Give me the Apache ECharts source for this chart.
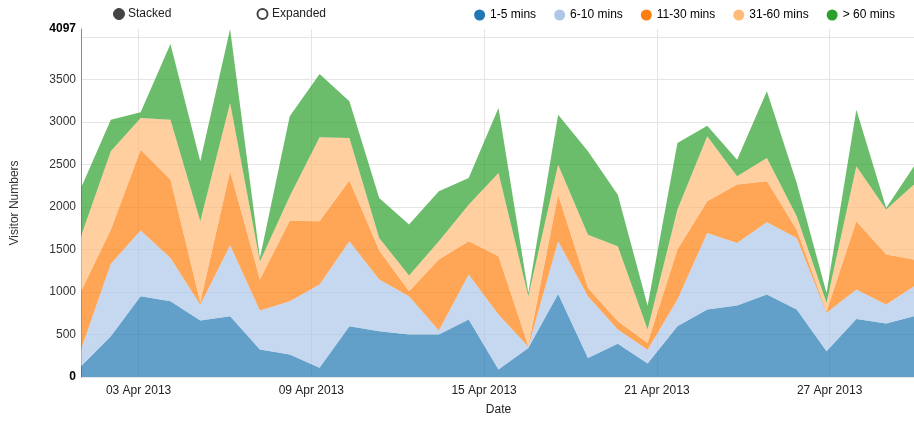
<!DOCTYPE html>
<html>
<head>
<meta charset="utf-8">
<script src="https://cdn.jsdelivr.net/npm/echarts@6/dist/echarts.min.js"></script>
<style>
  html, body { margin: 0; padding: 0; background: #fff; }
  #chart { width: 914px; height: 421px; }
</style>
</head>
<body>
<div id="chart"></div>
<script>
// Sample times (29 evenly spread samples over April 2013)
const sampleTimes = [
  '2013-04-01 00:00', '2013-04-02 00:51', '2013-04-03 01:43', '2013-04-04 02:34',
  '2013-04-05 03:26', '2013-04-06 04:17', '2013-04-07 05:09', '2013-04-08 06:00',
  '2013-04-09 06:51', '2013-04-10 07:43', '2013-04-11 08:34', '2013-04-12 09:26',
  '2013-04-13 10:17', '2013-04-14 11:09', '2013-04-15 12:00', '2013-04-16 12:51',
  '2013-04-17 13:43', '2013-04-18 14:34', '2013-04-19 15:26', '2013-04-20 16:17',
  '2013-04-21 17:09', '2013-04-22 18:00', '2013-04-23 18:51', '2013-04-24 19:43',
  '2013-04-25 20:34', '2013-04-26 21:26', '2013-04-27 22:17', '2013-04-28 23:09',
  '2013-04-30 00:00'
];

const seriesNames = ['1-5 mins', '6-10 mins', '11-30 mins', '31-60 mins', '> 60 mins'];

// Visitors per visit-length band
const mins1to5 = [127, 480, 951, 892, 665, 716, 324, 265, 108, 598, 539, 500, 500, 676, 88,
                  340, 978, 225, 390, 160, 598, 794, 841, 971, 794, 304, 684, 629, 722];
const mins6to10 = [197, 852, 773, 510, 185, 835, 458, 627, 980, 1000, 608, 451, 47, 530, 647,
                   15, 620, 726, 169, 160, 314, 902, 737, 851, 843, 451, 345, 224, 363];
const mins11to30 = [686, 403, 952, 922, 30, 871, 365, 949, 745, 714, 343, 59, 835, 392, 687,
                    10, 549, 98, 98, 80, 588, 373, 687, 482, 98, 15, 804, 588, 293];
const mins31to60 = [647, 922, 373, 705, 953, 803, 213, 286, 989, 502, 147, 186, 216, 431, 980,
                    585, 353, 627, 882, 160, 471, 764, 98, 274, 157, 103, 647, 530, 909];
const minsOver60 = [568, 372, 69, 891, 706, 872, 42, 942, 745, 431, 471, 598, 588, 314, 765,
                    40, 588, 981, 608, 280, 784, 126, 196, 785, 392, 117, 667, 19, 229];

const dateTicks = ['2013-04-03', '2013-04-09', '2013-04-15', '2013-04-21', '2013-04-27'];
const yMax = 4097;
const yStep = 500;

const palette = ['#1f77b4', '#aec7e8', '#ff7f0e', '#ffbb78', '#2ca02c'];
const font = '"Liberation Sans", Arial, sans-serif';
const monthNames = ['Jan', 'Feb', 'Mar', 'Apr', 'May', 'Jun', 'Jul', 'Aug', 'Sep', 'Oct', 'Nov', 'Dec'];
const HOUR = 3600000;

function toTime(s) {
  const parts = s.split(' ');
  const d = parts[0].split('-').map(Number);
  const t = (parts[1] || '00:00').split(':').map(Number);
  return new Date(d[0], d[1] - 1, d[2], t[0], t[1]).getTime();
}
// the date scale runs in hours since the first sample
const t0 = toTime(sampleTimes[0]);
function toHours(s) { return (toTime(s) - t0) / HOUR; }
function fmtDate(h) {
  const d = new Date(t0 + h * HOUR);
  const dd = d.getDate() < 10 ? '0' + d.getDate() : String(d.getDate());
  return dd + ' ' + monthNames[d.getMonth()] + ' ' + d.getFullYear();
}

const bands = [mins1to5, mins6to10, mins11to30, mins31to60, minsOver60];
const tickHours = dateTicks.map(toHours);

const chart = echarts.init(document.getElementById('chart'), null, { renderer: 'canvas' });

chart.setOption({
  animation: false,
  backgroundColor: '#fff',
  textStyle: { fontFamily: font },
  grid: { left: 81, right: -2, top: 29, bottom: 44, outerBoundsMode: 'none' },
  legend: {
    data: seriesNames,
    right: 14,
    top: 4,
    icon: 'circle',
    itemWidth: 11,
    itemHeight: 11,
    itemGap: 18,
    textStyle: { fontFamily: font, fontSize: 12, color: '#000' }
  },
  xAxis: [
    {
      // sample axis carrying the stacked areas
      type: 'category',
      data: sampleTimes,
      boundaryGap: false,
      position: 'bottom',
      show: false
    },
    {
      // date scale: labels and vertical grid lines
      type: 'value',
      position: 'bottom',
      min: 0,
      max: toHours(sampleTimes[sampleTimes.length - 1]),
      axisLine: { show: false },
      axisTick: { show: false, customValues: tickHours },
      axisLabel: {
        customValues: tickHours,
        formatter: fmtDate,
        margin: 8,
        color: '#222',
        fontSize: 12,
        fontFamily: font
      },
      splitLine: { show: true, lineStyle: { color: '#e5e5e5', width: 1 } },
      name: 'Date',
      nameLocation: 'middle',
      nameGap: 27,
      nameTextStyle: { color: '#222', fontSize: 12, fontFamily: font }
    }
  ],
  yAxis: {
    type: 'value',
    min: 0,
    max: yMax,
    interval: yStep,
    axisLine: { show: true, lineStyle: { color: '#8a8a8a', width: 1 } },
    axisTick: { show: false },
    axisLabel: {
      margin: 5,
      color: '#333',
      fontSize: 12,
      fontFamily: font,
      formatter: function (v) {
        if (v === 0 || v === yMax) return '{b|' + v + '}';
        if (yMax - v < yStep / 2) return '';
        return String(v);
      },
      rich: { b: { fontWeight: 'bold', color: '#000', fontSize: 12, fontFamily: font } }
    },
    splitLine: {
      show: true,
      showMaxLine: false,
      lineStyle: {
        color: ['#e5e5e5', '#e5e5e5', '#e5e5e5', '#e5e5e5', '#e5e5e5',
                '#e5e5e5', '#e5e5e5', '#e5e5e5', '#e5e5e5', 'rgba(0,0,0,0)'],
        width: 1
      }
    },
    name: 'Visitor Numbers',
    nameLocation: 'middle',
    nameGap: 60,
    nameTextStyle: { color: '#333', fontSize: 12, fontFamily: font }
  },
  graphic: [
    { type: 'circle', shape: { cx: 119, cy: 14, r: 5.5 }, style: { fill: '#444', stroke: '#444', lineWidth: 1 } },
    { type: 'text', x: 128, y: 14, style: { text: 'Stacked', fill: '#222', font: '12px ' + font, verticalAlign: 'middle' } },
    { type: 'circle', shape: { cx: 262.5, cy: 14, r: 5 }, style: { fill: '#fff', stroke: '#444', lineWidth: 2 } },
    { type: 'text', x: 272, y: 14, style: { text: 'Expanded', fill: '#222', font: '12px ' + font, verticalAlign: 'middle' } }
  ],
  series: seriesNames.map(function (name, k) {
    return {
      name: name,
      type: 'line',
      xAxisIndex: 0,
      stack: 'visitors',
      symbol: 'none',
      showSymbol: false,
      data: bands[k],
      lineStyle: { width: 0, opacity: 0 },
      itemStyle: { color: palette[k] },
      areaStyle: { color: palette[k], opacity: 0.7 },
      emphasis: { disabled: true }
    };
  })
});
</script>
</body>
</html>
